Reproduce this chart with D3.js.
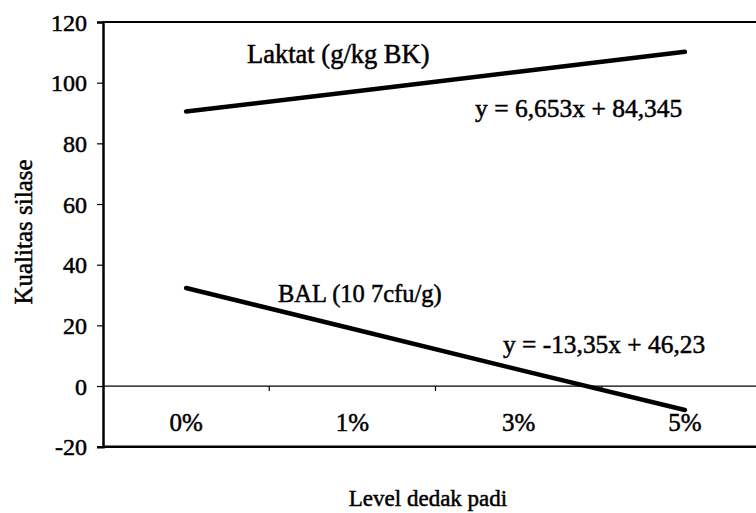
<!DOCTYPE html>
<html>
  <head>
    <meta charset="utf-8">
    <title>Kualitas silase</title>
    <style>
      body { margin: 0; background: #fff; }
      svg text {
        font-family: "Liberation Serif", "Times New Roman", serif;
        fill: #000;
        stroke: #000;
        stroke-width: 0.5px;     /* scanned print looks heavier than plain Times */
      }
    </style>
  </head>
  <body>
    <div id="chart"></div>
    <script src="https://cdn.jsdelivr.net/npm/d3@7"></script>
    <script>
      // data (trend lines)
      var categories = ['0%', '1%', '3%', '5%'];
      var laktat = [90.5, 97.0, 103.6, 110.2];
      var bal = [32.3, 18.9, 5.4, -7.9];
      var yTicks = [-20, 0, 20, 40, 60, 80, 100, 120];

      var width = 756, height = 513;
      var margin = { top: 22, right: -12, bottom: 66, left: 103 };

      var svg = d3.select('#chart').append('svg')
        .attr('width', width)
        .attr('height', height);

      var x = d3.scaleBand()
        .domain(categories)
        .range([margin.left, width - margin.right])
        .paddingInner(0).paddingOuter(0);

      var y = d3.scaleLinear()
        .domain([-20, 120])
        .range([height - margin.bottom - 0.3, margin.top]);

      // frame: top and bottom lines
      svg.append('line')
        .attr('x1', margin.left).attr('x2', width)
        .attr('y1', y(120)).attr('y2', y(120))
        .attr('stroke', '#000').attr('stroke-width', 2);
      svg.append('line')
        .attr('x1', margin.left).attr('x2', width)
        .attr('y1', y(-20)).attr('y2', y(-20))
        .attr('stroke', '#000').attr('stroke-width', 2.5);

      // y axis
      var yAxis = svg.append('g')
        .attr('transform', 'translate(' + margin.left + ',0)')
        .call(d3.axisLeft(y).tickValues(yTicks).tickSize(6).tickPadding(10)
          .tickFormat(function(d) { return String(d); }));
      yAxis.select('.domain').attr('stroke', '#000').attr('stroke-width', 2.5);
      yAxis.selectAll('.tick line').attr('stroke', '#000').attr('stroke-width', 1.2);
      yAxis.selectAll('.tick text')
        .style('font-size', '24px')
        .style('font-family', '"Liberation Serif", serif')
        .attr('dy', '0.34em');

      // category axis along zero
      svg.append('line')
        .attr('x1', margin.left).attr('x2', width)
        .attr('y1', y(0)).attr('y2', y(0))
        .attr('stroke', '#000').attr('stroke-width', 1.2);
      svg.selectAll('.cat-tick')
        .data(categories.slice(1))
        .enter().append('line')
        .attr('class', 'cat-tick')
        .attr('x1', function(d) { return x(d); })
        .attr('x2', function(d) { return x(d); })
        .attr('y1', y(0)).attr('y2', y(0) + 5)
        .attr('stroke', '#000').attr('stroke-width', 1.2);
      svg.selectAll('.cat-label')
        .data(categories)
        .enter().append('text')
        .attr('class', 'cat-label')
        .attr('x', function(d) { return x(d) + x.bandwidth() / 2; })
        .attr('y', y(0) + 45)
        .attr('text-anchor', 'middle')
        .style('font-size', '25px')
        .text(function(d) { return d; });

      // trend lines
      var line = d3.line()
        .x(function(d, i) { return x(categories[i]) + x.bandwidth() / 2; })
        .y(function(d) { return y(d); });

      [laktat, bal].forEach(function(s) {
        svg.append('path')
          .datum(s)
          .attr('d', line)
          .attr('fill', 'none')
          .attr('stroke', '#000')
          .attr('stroke-width', 4.5)
          .attr('stroke-linecap', 'round');
      });

      // annotations
      var notes = [
        { t: 'Laktat (g/kg BK)', x: 247, y: 63, s: 26.5 },
        { t: 'y = 6,653x + 84,345', x: 475, y: 117, s: 25.5 },
        { t: 'BAL (10 7cfu/g)', x: 278, y: 302, s: 24.5 },
        { t: 'y = -13,35x + 46,23', x: 503, y: 353, s: 25.4 }
      ];
      svg.selectAll('.note')
        .data(notes)
        .enter().append('text')
        .attr('class', 'note')
        .attr('x', function(d) { return d.x; })
        .attr('y', function(d) { return d.y; })
        .style('font-size', function(d) { return d.s + 'px'; })
        .text(function(d) { return d.t; });

      // axis titles
      svg.append('text')
        .attr('x', 428).attr('y', 506)
        .attr('text-anchor', 'middle')
        .style('font-size', '23px')
        .text('Level dedak padi');
      svg.append('text')
        .attr('transform', 'translate(32,232) rotate(-90)')
        .attr('text-anchor', 'middle')
        .style('font-size', '25px')
        .text('Kualitas silase');
    </script>
  </body>
</html>
